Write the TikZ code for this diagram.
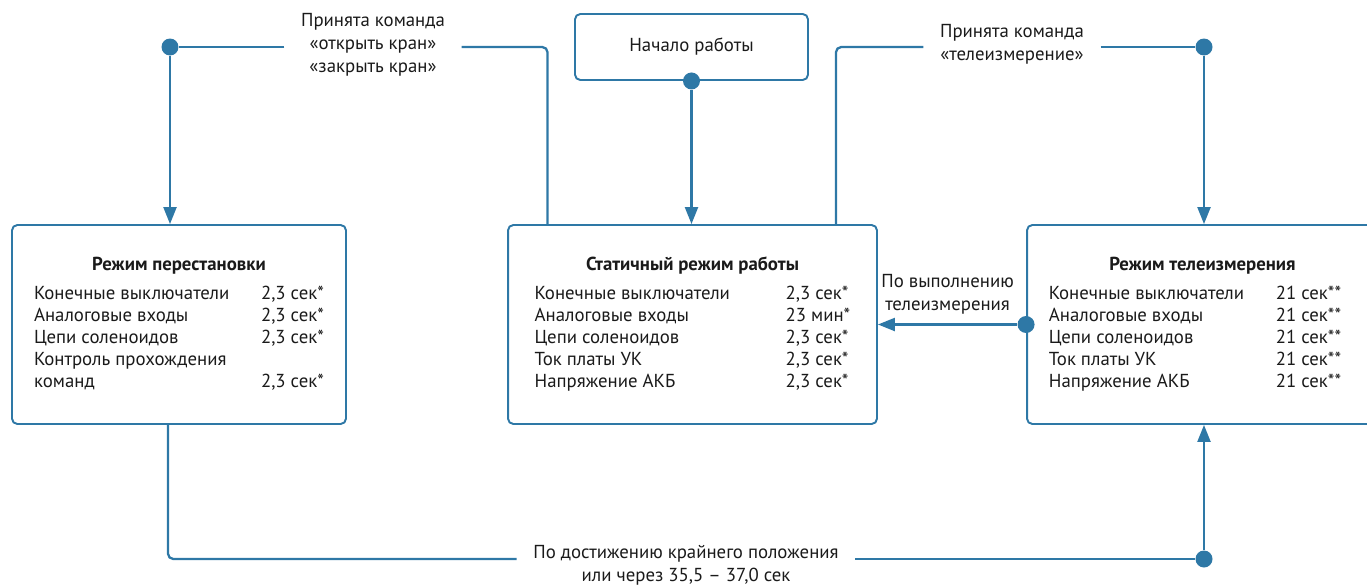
\documentclass[tikz,border=0pt]{standalone}
\usepackage{fontspec}
\setmainfont{PT Sans}
\usetikzlibrary{positioning, arrows.meta, calc}
\definecolor{tmblue}{HTML}{2E78A6}
\definecolor{tmtext}{HTML}{1A1A1A}

\begin{document}
\begin{tikzpicture}[x=0.02cm, y=-0.02cm, font=\fontsize{10.7}{12.5}\selectfont, text=tmtext,
    modebox/.style={draw=tmblue, line width=1.1pt, rounded corners=3pt,
                    minimum height=3.98cm, inner sep=0pt},
    flow/.style={draw=tmblue, line width=1.3pt, rounded corners=3pt},
    flowarrow/.style={-{Triangle[width=2.6mm, length=3.4mm]}},
    junction/.style={circle, fill=tmblue, inner sep=0pt, minimum size=0.34cm},
    cmdlabel/.style={align=center, inner xsep=0.33cm, font=\fontsize{10.7}{13}\selectfont}]
  \useasboundingbox (0,0) rectangle (1367,585);

  % START
  \node[modebox, minimum width=4.66cm, minimum height=1.32cm] (start) at (691.5,47) {Начало работы};

  % MODES
  \node[modebox, minimum width=6.68cm] (perest) at (179,324.5) {%
    \begin{tabular}{@{}p{4.54cm}@{}l@{}}
      \multicolumn{2}{@{}c@{}}{\bfseries Режим перестановки}\\[4pt]
      Конечные выключатели & 2,3 сек*\\
      Аналоговые входы & 2,3 сек*\\
      Цепи соленоидов & 2,3 сек*\\
      Контроль прохождения & \\
      команд & 2,3 сек*
    \end{tabular}};
  \node[modebox, minimum width=7.38cm] (static) at (692.5,324.5) {%
    \begin{tabular}{@{}p{5.02cm}@{}l@{}}
      \multicolumn{2}{@{}c@{}}{\bfseries Статичный режим работы}\\[4pt]
      Конечные выключатели & 2,3 сек*\\
      Аналоговые входы & 23 мин*\\
      Цепи соленоидов & 2,3 сек*\\
      Ток платы УК & 2,3 сек*\\
      Напряжение АКБ & 2,3 сек*
    \end{tabular}};
  \node[modebox, minimum width=7.02cm] (tele) at (1202.5,324.5) {%
    \begin{tabular}{@{}p{4.54cm}@{}l@{\hspace{0.3cm}}}
      \multicolumn{2}{@{}c@{}}{\bfseries Режим телеизмерения}\\[4pt]
      Конечные выключатели & 21 сек**\\
      Аналоговые входы & 21 сек**\\
      Цепи соленоидов & 21 сек**\\
      Ток платы УК & 21 сек**\\
      Напряжение АКБ & 21 сек**
    \end{tabular}};

  % LABELS
  \node[cmdlabel] (cmdvalve) at (373,45) {Принята команда\\«открыть кран»\\«закрыть кран»};
  \node[cmdlabel] (cmdtele) at (1012,44) {Принята команда\\«телеизмерение»};
  \node[cmdlabel] (reached) at (686,565) {По достижению крайнего положения\\или через 35,5 – 37,0 сек};

  % JUNCTIONS
  \node[junction] (jstart) at (start.south) {};
  \node[junction] (jleft) at (170,47) {};
  \node[junction] (jright) at (1204,47) {};
  \node[junction] (jtele) at (tele.west) {};
  \node[junction] (jbottom) at (1204,559) {};

  % CONNECTORS
  \draw[flow, flowarrow] (jstart) -- (jstart |- static.north);
  \draw[flow] ([xshift=-2.9cm]static.north) |- (cmdvalve.east |- jleft);
  \draw[flow] (cmdvalve.west |- jleft) -- (jleft);
  \draw[flow, flowarrow] (jleft) -- (jleft |- perest.north);
  \draw[flow] ([xshift=2.87cm]static.north) |- (cmdtele.west |- jright);
  \draw[flow] (cmdtele.east |- jright) -- (jright);
  \draw[flow, flowarrow] (jright) -- (jright |- tele.north);
  \draw[flow, flowarrow] (jtele) -- (static.east |- jtele)
    node[midway, above=2pt, cmdlabel] (donelbl) {По выполнению\\телеизмерения};
  \draw[flow] ([xshift=-0.22cm]perest.south) |- (reached.west |- jbottom);
  \draw[flow] (reached.east |- jbottom) -- (jbottom);
  \draw[flow, flowarrow] (jbottom) -- (jbottom |- tele.south);
\end{tikzpicture}
\end{document}
